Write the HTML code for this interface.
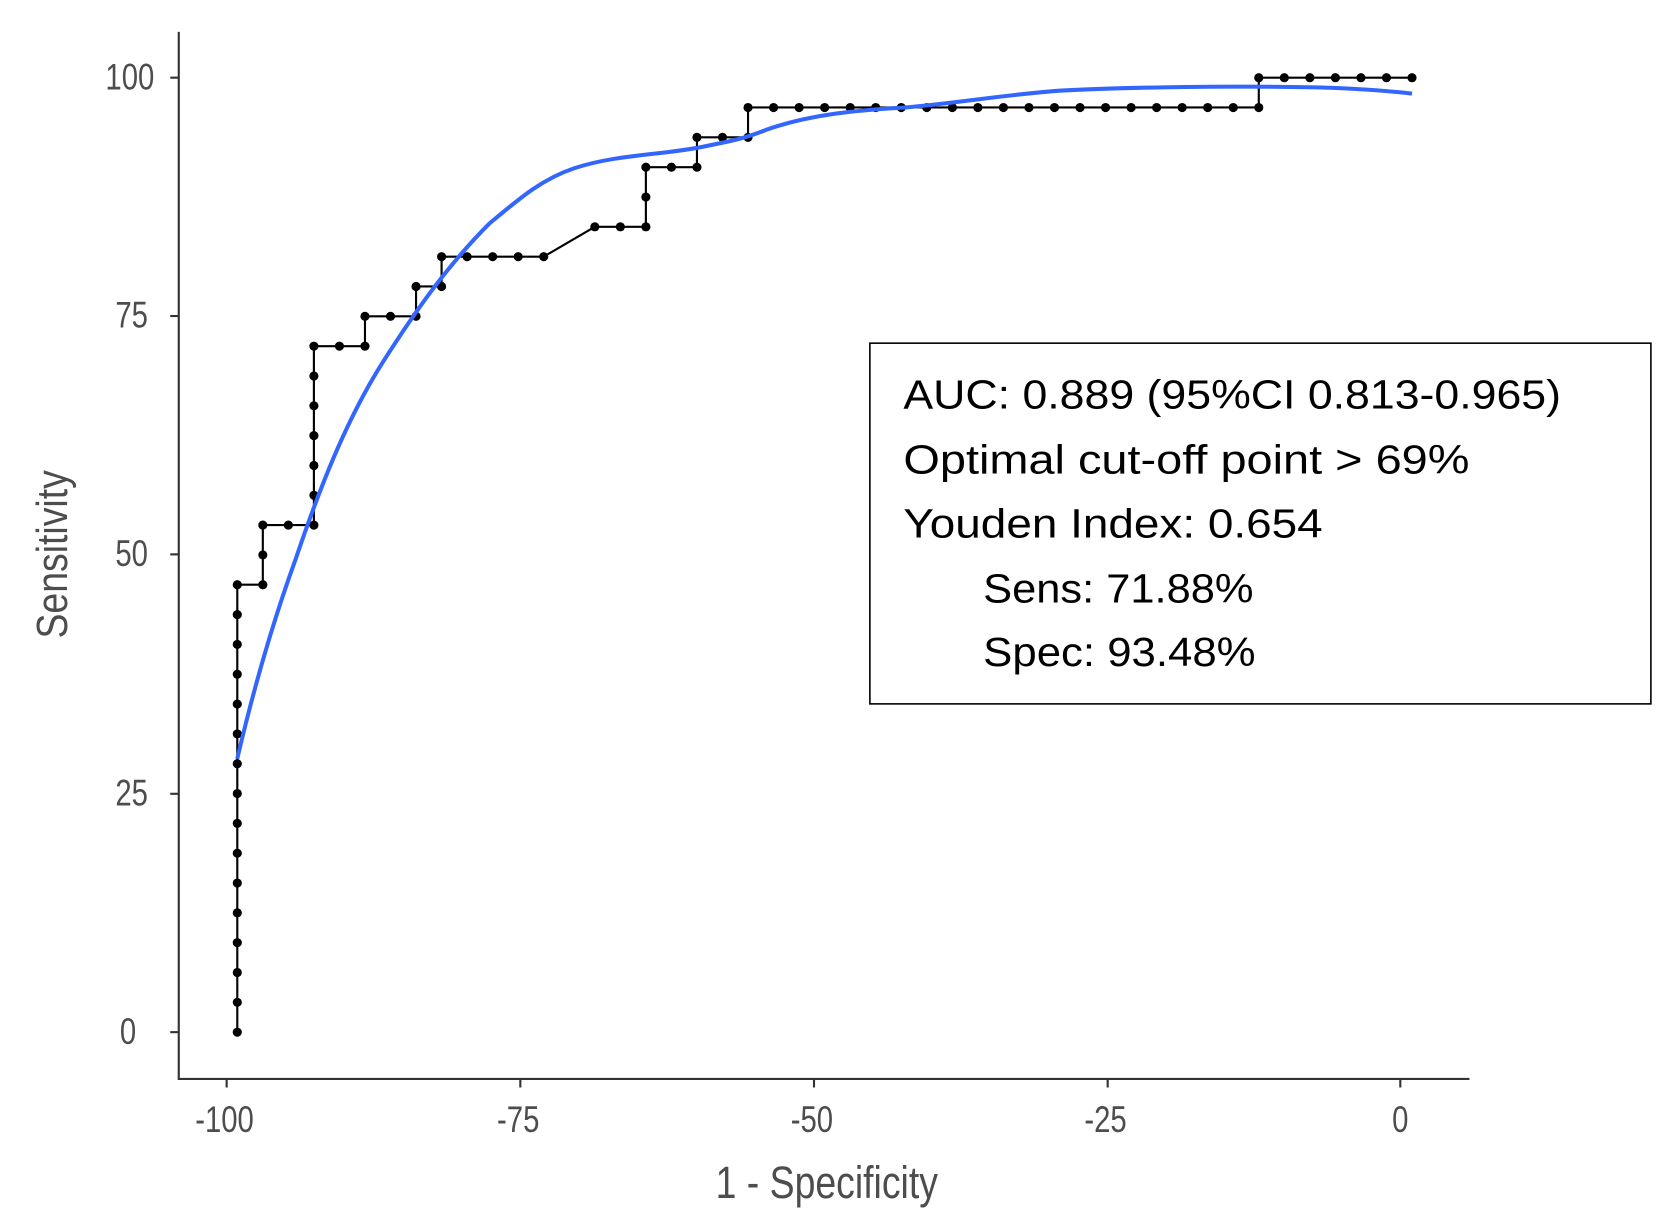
<!DOCTYPE html>
<html><head><meta charset="utf-8"><style>
html,body{margin:0;padding:0;background:#fff;}
svg{display:block;}
</style></head><body>
<svg width="1661" height="1229" viewBox="0 0 1561 1155" preserveAspectRatio="none" xmlns="http://www.w3.org/2000/svg">
<rect width="1561" height="1155" fill="#fff"/>
<g stroke="#333" stroke-width="2" fill="none">
<line x1="168" y1="30" x2="168" y2="1014"/>
<line x1="167" y1="1014" x2="1381" y2="1014"/>
<line x1="160" y1="73" x2="168" y2="73"/>
<line x1="160" y1="297" x2="168" y2="297"/>
<line x1="160" y1="521" x2="168" y2="521"/>
<line x1="160" y1="746" x2="168" y2="746"/>
<line x1="160" y1="970" x2="168" y2="970"/>
<line x1="213" y1="1014" x2="213" y2="1022"/>
<line x1="489" y1="1014" x2="489" y2="1022"/>
<line x1="765" y1="1014" x2="765" y2="1022"/>
<line x1="1041" y1="1014" x2="1041" y2="1022"/>
<line x1="1316" y1="1014" x2="1316" y2="1022"/>
</g>
<g font-family="Liberation Sans, sans-serif" font-size="29" fill="#4d4d4d" text-anchor="end">
<text transform="translate(145,84) scale(0.95,1.2)">100</text>
<text transform="translate(139,308) scale(0.95,1.2)">75</text>
<text transform="translate(139,532) scale(0.95,1.2)">50</text>
<text transform="translate(139,757) scale(0.95,1.2)">25</text>
<text transform="translate(128,981) scale(0.95,1.2)">0</text>
</g>
<g font-family="Liberation Sans, sans-serif" font-size="29" fill="#4d4d4d" text-anchor="middle">
<text transform="translate(211,1064) scale(0.95,1.2)">-100</text>
<text transform="translate(487,1064) scale(0.95,1.2)">-75</text>
<text transform="translate(763,1064) scale(0.95,1.2)">-50</text>
<text transform="translate(1039,1064) scale(0.95,1.2)">-25</text>
<text transform="translate(1316,1064) scale(0.95,1.2)">0</text>
</g>
<text transform="translate(777,1126) scale(0.95,1.15)" font-family="Liberation Sans, sans-serif" font-size="37" fill="#4d4d4d" text-anchor="middle">1 - Specificity</text>
<text transform="translate(63,521) rotate(-90) scale(0.95,1.1)" font-family="Liberation Sans, sans-serif" font-size="37" fill="#4d4d4d" text-anchor="middle">Sensitivity</text>
<path d="M223,970 V549.5 H247 V493.4 H295 V325.3 H343 V297.3 H391 V269.2 H415 V241.2 H511 L559,213.2 H607 V157.1 H655 V129.1 H703 V101 H1183 V73 H1327" fill="none" stroke="#000" stroke-width="2"/>
<g id="dots" fill="#000"></g>
<path d="M223,713 C240,640 258,580 278,525 C300,460 325,395 360,340 C390,293 420,250 460,210 C490,185 510,168 540,158 C580,145 620,146 660,138 C690,132 700,130 720,122 C760,108 800,104 850,101 C900,97 950,88 1000,85 C1080,81 1180,81 1230,82 C1280,83 1310,86 1327,88" fill="none" stroke="#3366ff" stroke-width="3.8"/>
<rect x="817.5" y="322.5" width="734" height="339" fill="#fff" stroke="#000" stroke-width="1.5"/>
<g font-family="Liberation Sans, sans-serif" font-size="38" fill="#000">
<text x="849" y="384" textLength="618" lengthAdjust="spacingAndGlyphs">AUC: 0.889 (95%CI 0.813-0.965)</text>
<text x="849" y="445" textLength="532" lengthAdjust="spacingAndGlyphs">Optimal cut-off point &gt; 69%</text>
<text x="849" y="505" textLength="394" lengthAdjust="spacingAndGlyphs">Youden Index: 0.654</text>
<text x="924" y="566" textLength="254" lengthAdjust="spacingAndGlyphs">Sens: 71.88%</text>
<text x="924" y="626" textLength="256" lengthAdjust="spacingAndGlyphs">Spec: 93.48%</text>
</g>
<script>
(function(){
var g=document.getElementById('dots');
var pts=[];
function add(x,k){pts.push([x,970-28.03*k]);}
for(var k=0;k<=15;k++)add(223,k);
add(247,15);add(247,16);add(247,17);add(271,17);
for(k=17;k<=23;k++)add(295,k);
add(319,23);add(343,23);add(343,24);add(367,24);add(391,24);add(391,25);
add(415,25);add(415,26);add(439,26);add(463,26);add(487,26);add(511,26);
add(559,27);add(583,27);add(607,27);add(607,28);add(607,29);
add(631,29);add(655,29);add(655,30);add(679,30);add(703,30);add(703,31);
for(var x=727;x<=1183;x+=24)add(x,31);
add(1183,32);
for(x=1207;x<=1327;x+=24)add(x,32);
var ns='http://www.w3.org/2000/svg';
pts.forEach(function(p){var c=document.createElementNS(ns,'circle');c.setAttribute('cx',p[0]);c.setAttribute('cy',p[1]);c.setAttribute('r',4.3);g.appendChild(c);});
})();
</script>
</svg>
</body></html>
